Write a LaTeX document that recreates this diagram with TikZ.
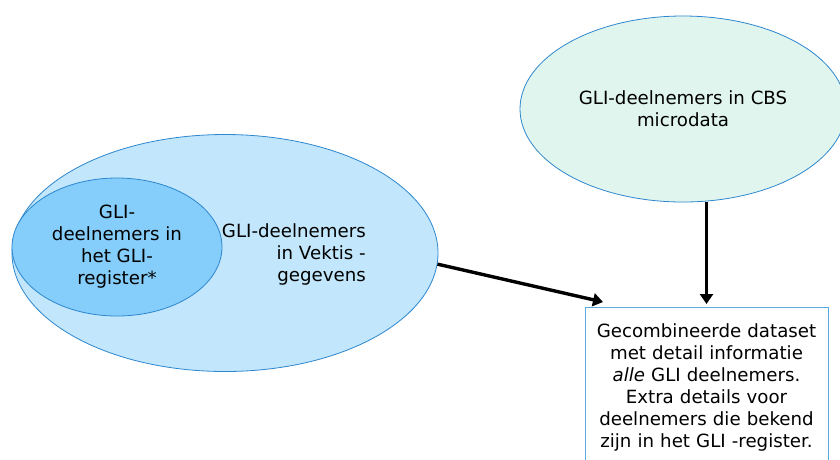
\documentclass[tikz,border=0pt]{standalone}
\usepackage{fontspec}
\setmainfont{DejaVu Sans}
\usetikzlibrary{shapes.geometric,arrows.meta}
\definecolor{rimblue}{HTML}{2C87CF}
\definecolor{boxblue}{HTML}{5AAAE0}
\definecolor{vektisfill}{HTML}{C2E6FB}
\definecolor{glifill}{HTML}{85CDFA}
\definecolor{cbsfill}{HTML}{E1F5EF}
\tikzset{
	blob/.style={ellipse, draw=rimblue, line width=0.8pt, inner sep=0pt},
	txt/.style={font=\fontsize{18.2}{22}\selectfont, text=black},
	flow/.style={line width=3.4pt, -{Triangle[length=10pt,width=13pt]}}
}

\begin{document}
\begin{tikzpicture}[x=1pt,y=-1pt]
		%%%%% START %%%%%
		\useasboundingbox (0,0) rectangle (840,459);
		\clip (0,0) rectangle (840,459);
		
		\node[blob, fill=vektisfill, minimum width=426pt, minimum height=237pt] (vektis) at (225,253) {};
		\node[blob, fill=glifill, minimum width=210pt, minimum height=138pt, txt, align=center] (gli) at (117,247) {GLI-\\deelnemers in\\het GLI-\\register*};
		\node[txt, align=right, anchor=east, inner sep=0pt] (vektistxt) at (366,254) {GLI-deelnemers\\in Vektis -\\gegevens};
		
		\node[blob, fill=cbsfill, minimum width=326pt, minimum height=186pt, txt, align=center] (cbs) at (683,109) {GLI-deelnemers in CBS\\microdata};
		
		\node[draw=boxblue, line width=0.8pt, fill=white, anchor=north, minimum width=243pt, text width=232pt, inner ysep=16pt, txt, align=center] (dataset) at (706.5,307) {Gecombineerde dataset\\met detail informatie\\\textit{alle} GLI deelnemers.\\Extra details voor\\deelnemers die bekend\\zijn in het GLI -register.};
		
		\coordinate (hit) at (603,302);
		\draw[flow] (vektis.-3.5) -- (hit);
		\draw[flow, shorten >=3pt] (dataset.north |- cbs.south) -- (dataset.north);
		
		%%%%% END %%%%%
	\end{tikzpicture}
\end{document}
